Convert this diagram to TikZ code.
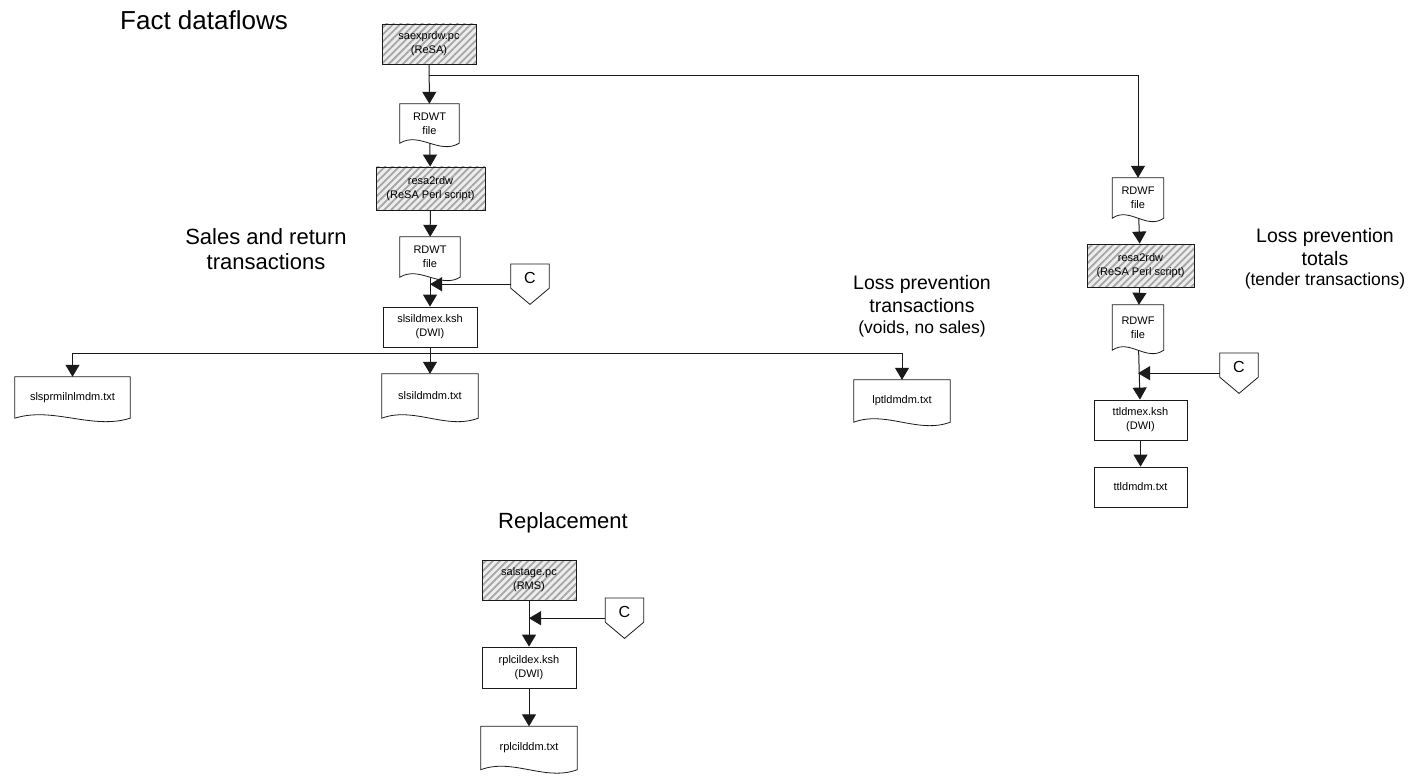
\documentclass[tikz,border=0pt]{standalone}
\usepackage{fontspec}
\setmainfont{Liberation Sans}
\usetikzlibrary{arrows.meta, calc, patterns.meta}
\definecolor{dfInk}{HTML}{1A1A1A}
\definecolor{dfHatch}{HTML}{A6A6A6}
\definecolor{dfHatchBg}{HTML}{EDEDED}
\tikzset{
  dfbox/.style={rectangle, draw=dfInk, line width=0.8pt, fill=white, align=center,
                font=\fontsize{11}{14}\selectfont, inner sep=0pt},
  dfprog/.style={rectangle, draw=dfInk, line width=0.8pt, align=center,
                 font=\fontsize{11}{14}\selectfont, inner sep=0pt,
                 preaction={fill=dfHatchBg},
                 pattern={Lines[angle=45, distance=5pt, line width=1.8pt]}, pattern color=dfHatch},
  dfdoc/.style={rectangle, align=center, font=\fontsize{11}{14}\selectfont, inner sep=0pt},
  dfflow/.style={-{Triangle[length=12pt, width=14pt]}, line width=1pt, color=dfInk},
}

\begin{document}
\begin{tikzpicture}[x=1pt, y=-1pt,
  offpage/.style={rectangle, minimum width=38, inner sep=0pt, text height=19pt, text depth=21pt,
                  font=\fontsize{16}{18}\selectfont},
  heading/.style={align=center, font=\fontsize{22}{25}\selectfont},
  subhead/.style={align=center, font=\fontsize{19.5}{23}\selectfont}]
  \useasboundingbox (0,0) rectangle (1423,778);
  \node[heading, font=\fontsize{26}{30}\selectfont] (tfact) at (204,20) {Fact dataflows};
  \node[heading] (tsales) at (266,249) {Sales and return\\transactions};
  \node[subhead] (tlpt) at (922,306) {Loss prevention\\transactions\\[-2pt]{\fontsize{17.5}{20}\selectfont (voids, no sales)}};
  \node[subhead] (tlptt) at (1325,259) {Loss prevention\\totals\\[-3pt]{\fontsize{17.5}{20}\selectfont (tender transactions)}};
  \node[heading] (trepl) at (563,523) {Replacement};

  \node[dfprog, minimum width=94, minimum height=40] (sae) at (429,44) {saexprdw.pc\\(ReSA)};
  \node[dfdoc, minimum width=59, minimum height=39] (rdwtA) at (429.5,123.5) {RDWT\\file};
  \node[dfprog, minimum width=109, minimum height=43] (resaA) at (430.5,188.5) {resa2rdw\\(ReSA Perl script)};
  \node[dfdoc, minimum width=60, minimum height=40] (rdwtB) at (430,257) {RDWT\\file};
  \node[offpage, anchor=north] (cA) at (530,264) {C};
  \node[dfbox, minimum width=94, minimum height=40] (slsx) at (430,327) {slsildmex.ksh\\(DWI)};
  \coordinate (bus) at (430,353);
  \node[dfdoc, minimum width=115, minimum height=41] (slsprm) at (72.5,397.5) {slsprmilnlmdm.txt};
  \node[dfdoc, minimum width=96, minimum height=44] (slsil) at (430,396) {slsildmdm.txt};
  \node[dfdoc, minimum width=96, minimum height=42] (lpt) at (902,401) {lptldmdm.txt};

  \coordinate (fork) at (429,76);
  \node[dfdoc, minimum width=51, minimum height=40] (rdwfA) at (1138,198) {RDWF\\file};
  \node[dfprog, minimum width=107, minimum height=43] (resaB) at (1140.5,265.5) {resa2rdw\\(ReSA Perl script)};
  \node[dfdoc, minimum width=51, minimum height=45] (rdwfB) at (1138,327.5) {RDWF\\file};
  \node[offpage, anchor=north] (cB) at (1239,353) {C};
  \node[dfbox, minimum width=93, minimum height=40] (ttlx) at (1140.5,420) {ttldmex.ksh\\(DWI)};
  \node[dfbox, minimum width=93, minimum height=40] (ttld) at (1140.5,487) {ttldmdm.txt};

  \node[dfprog, minimum width=94, minimum height=40] (sals) at (529,580) {salstage.pc\\(RMS)};
  \node[offpage, anchor=north] (cC) at (624.5,598) {C};
  \node[dfbox, minimum width=94, minimum height=41] (rplx) at (529,667.5) {rplcildex.ksh\\(DWI)};
  \node[dfdoc, minimum width=96, minimum height=43] (rpld) at (529,748) {rplcilddm.txt};

  \foreach \n in {rdwtA, rdwtB, slsprm, slsil, lpt, rdwfA, rdwfB, rpld}
    \draw[line width=0.8pt, dfInk] (\n.north west) -- (\n.north east) -- (\n.south east)
      .. controls ($(\n.south east)!0.33!(\n.south west)+(0,12)$)
      and ($(\n.south east)!0.67!(\n.south west)+(0,-12)$) .. (\n.south west) -- cycle;
  \foreach \n in {cA, cB, cC}
    \draw[line width=0.8pt, dfInk] (\n.north west) -- (\n.north east) -- ($(\n.north east)!0.6!(\n.south east)$)
      -- (\n.south) -- ($(\n.north west)!0.6!(\n.south west)$) -- cycle;

  \draw[dfflow] (sae) -- (rdwtA);
  \draw[dfflow] (fork) -| (rdwfA);
  \draw[dfflow] (rdwtA) -- (resaA);
  \draw[dfflow] (resaA) -- (rdwtB);
  \draw[dfflow] (rdwtB) -- (slsx);
  \draw[dfflow] (cA) -- (cA -| rdwtB);
  \draw[line width=1pt, dfInk] (slsx) -- (bus);
  \draw[dfflow] (bus) -| (slsprm);
  \draw[dfflow] (bus) -- (slsil);
  \draw[dfflow] (bus) -| (lpt);
  \draw[dfflow] (rdwfA) -- (resaB);
  \draw[dfflow] (resaB) -- (rdwfB);
  \draw[dfflow] (rdwfB) -- (ttlx);
  \draw[dfflow] (cB) -- (cB -| rdwfB);
  \draw[dfflow] (ttlx) -- (ttld);
  \draw[dfflow] (sals) -- (rplx);
  \draw[dfflow] (cC) -- (cC -| rplx);
  \draw[dfflow] (rplx) -- (rpld);
\end{tikzpicture}
\end{document}
